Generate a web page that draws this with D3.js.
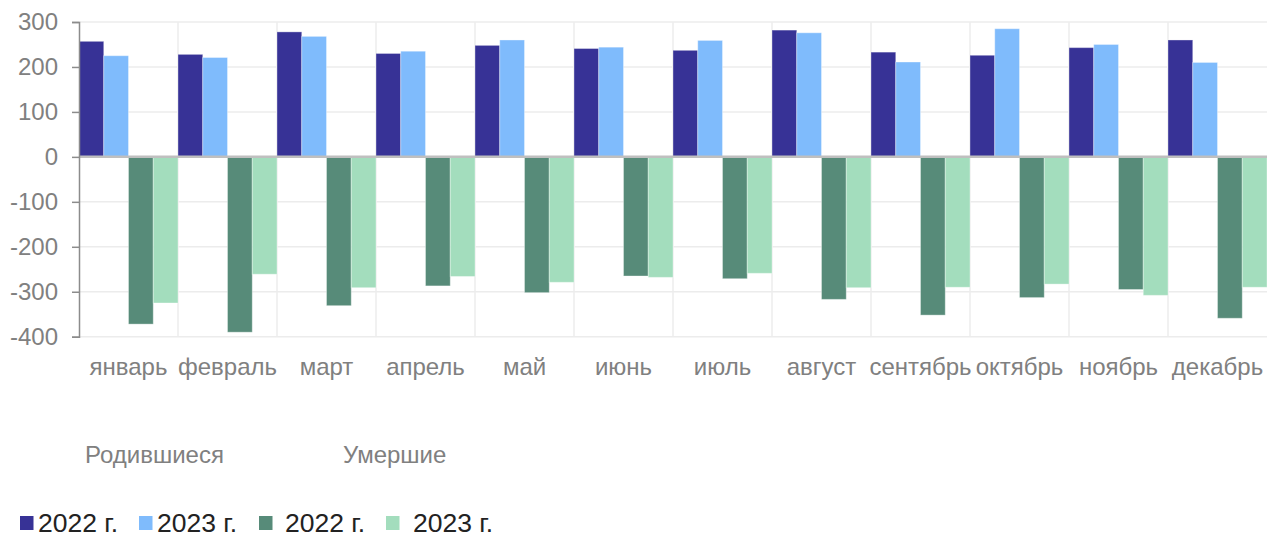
<!DOCTYPE html>
<html lang="ru">
<head>
<meta charset="utf-8">
<script src="https://cdn.jsdelivr.net/npm/d3@7"></script>
<style>
  html, body { margin: 0; padding: 0; background: #fff; }
  svg { display: block; font-family: "Liberation Sans", Arial, sans-serif; }
</style>
</head>
<body>
<svg id="chart" width="1268" height="534"></svg>
<script>
const months = ["январь","февраль","март","апрель","май","июнь","июль","август","сентябрь","октябрь","ноябрь","декабрь"];
const births2022 = [257, 228, 278, 230, 248, 241, 237, 282, 233, 226, 243, 260];
const births2023 = [225, 221, 268, 235, 260, 244, 259, 276, 211, 285, 250, 210];
const deaths2022 = [-372, -390, -331, -287, -302, -265, -271, -317, -352, -313, -295, -359];
const deaths2023 = [-325, -261, -291, -266, -279, -268, -259, -291, -290, -283, -308, -290];
const yTicks = [300, 200, 100, 0, -100, -200, -300, -400];
const seriesNames = ["2022 г.", "2023 г.", "2022 г.", "2023 г."];
const groupNames = ["Родившиеся", "Умершие"];

const seriesKeys = ["b22", "b23", "d22", "d23"];
const seriesData = [births2022, births2023, deaths2022, deaths2023];
const colors = ["#373296", "#7fbbfc", "#578b79", "#a3ddbd"];

const svg = d3.select("#chart");
const plotLeft = 79, plotRight = 1267, plotTop = 22, plotBottom = 336.7;
const fontFam = "Liberation Sans, Arial, sans-serif";

const x = d3.scaleBand().domain(months).range([plotLeft, plotRight]).padding(0);
const xi = d3.scaleBand().domain(seriesKeys).range([0, x.bandwidth()]).padding(0);
const y = d3.scaleLinear().domain([-400, 300]).range([plotBottom, plotTop]);

// horizontal gridlines
svg.append("g").selectAll("line").data(yTicks).join("line")
  .attr("x1", plotLeft).attr("x2", plotRight)
  .attr("y1", d => y(d)).attr("y2", d => y(d))
  .attr("stroke", "#ececec").attr("stroke-width", 1.5);

// vertical gridlines at band boundaries
svg.append("g").selectAll("line").data(months.slice(1)).join("line")
  .attr("x1", d => x(d)).attr("x2", d => x(d))
  .attr("y1", plotTop).attr("y2", plotBottom)
  .attr("stroke", "#ececec").attr("stroke-width", 1.5);

// bars
const rows = months.map((m, i) => seriesKeys.map((k, j) => ({ m, k, j, v: seriesData[j][i] })));
svg.append("g").selectAll("g").data(rows).join("g")
  .selectAll("rect").data(d => d).join("rect")
  .attr("x", d => x(d.m) + xi(d.k))
  .attr("width", xi.bandwidth())
  .attr("y", d => Math.min(y(d.v), y(0)))
  .attr("height", d => Math.abs(y(d.v) - y(0)))
  .attr("fill", d => colors[d.j])
  .attr("stroke", "rgba(255,255,255,0.35)")
  .attr("stroke-width", 1);

// zero line
svg.append("line")
  .attr("x1", plotLeft).attr("x2", plotRight)
  .attr("y1", y(0)).attr("y2", y(0))
  .attr("stroke", "#bfbfbf").attr("stroke-width", 2.5);

// y axis
const yAxis = d3.axisLeft(y).tickValues(yTicks).tickSize(7).tickPadding(14).tickFormat(d3.format("d"));
const ya = svg.append("g").attr("transform", `translate(${plotLeft},0)`).call(yAxis);
ya.select(".domain").attr("stroke", "#8c8c8c").attr("stroke-width", 1.5);
ya.selectAll(".tick line").attr("stroke", "#8c8c8c").attr("stroke-width", 1.5);
ya.selectAll(".tick text").attr("fill", "#808080").attr("font-size", 24)
  .attr("font-family", fontFam).text(d => d < 0 ? "-" + Math.abs(d) : d);

// x labels
const xAxis = d3.axisBottom(x).tickSize(0).tickPadding(0);
const xa = svg.append("g").attr("transform", `translate(0,${plotBottom})`).call(xAxis);
xa.select(".domain").remove();
xa.selectAll(".tick text").attr("fill", "#808080").attr("font-size", 24)
  .attr("font-family", fontFam)
  .attr("dy", null).attr("y", 38.5);

// group labels
const groupX = [85, 343];
svg.append("g").selectAll("text").data(groupNames).join("text")
  .attr("x", (d, i) => groupX[i]).attr("y", 463)
  .attr("fill", "#808080").attr("font-size", 24)
  .attr("font-family", fontFam)
  .text(d => d);

// legend
const legX = [20, 139, 259, 386];
const legTextX = [38, 157, 285, 413];
const leg = svg.append("g");
leg.selectAll("rect").data(seriesNames).join("rect")
  .attr("x", (d, i) => legX[i]).attr("y", 516)
  .attr("width", 13.5).attr("height", 14)
  .attr("fill", (d, i) => colors[i]);
leg.selectAll("text").data(seriesNames).join("text")
  .attr("x", (d, i) => legTextX[i]).attr("y", 532)
  .attr("fill", "#222").attr("font-size", 26.5)
  .attr("font-family", fontFam)
  .text(d => d);
</script>
</body>
</html>
